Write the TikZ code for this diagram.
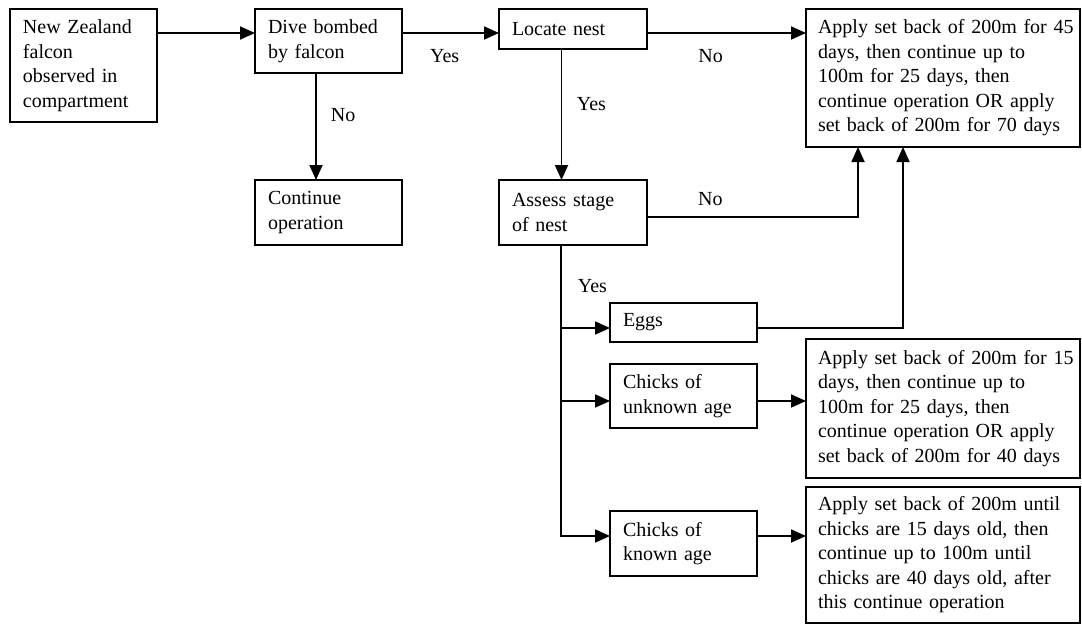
\documentclass[tikz,border=0pt]{standalone}
\usepackage{fontspec}
\setmainfont{Liberation Serif}
\usetikzlibrary{positioning,arrows.meta}

\begin{document}
\begin{tikzpicture}[>={Triangle[length=15pt,width=13pt]},line width=1.8pt,font=\fontsize{20}{24.5}\selectfont,
  box/.style={draw,align=left,anchor=north west,inner xsep=13pt,inner ysep=0pt,outer sep=0pt},
  wide box/.style={box,inner xsep=12pt,text width=250pt},
  link/.style={->},
  lbl/.style={inner sep=0pt}]
                \useasboundingbox (0,0) rectangle (1082pt,-624pt);

                \node[box,text width=121pt,minimum height=113pt] (falcon) at (10pt,-9pt) {New Zealand\\falcon\\observed in\\compartment};
                \node[box,text width=121pt,minimum height=64pt,right=98pt of falcon.north east,anchor=north west] (dive) {Dive bombed\\by falcon};
                \node[box,text width=121pt,minimum height=65pt,below=107pt of dive.south west,anchor=north west] (cont) {Continue\\operation};
                \node[box,text width=122pt,minimum height=40pt,right=97pt of dive.north east,anchor=north west] (locate) {Locate nest};
                \node[box,text width=122pt,minimum height=65pt,below=131pt of locate.south west,anchor=north west] (assess) {Assess stage\\of nest};
                \node[box,text width=121pt,minimum height=39pt,below right=58pt and 111pt of assess.south west,anchor=north west] (eggs) {Eggs};
                \node[box,text width=121pt,minimum height=64pt,below=22pt of eggs.south west,anchor=north west] (unknown) {Chicks of\\unknown age};
                \node[box,text width=121pt,minimum height=65pt,below=83pt of unknown.south west,anchor=north west] (known) {Chicks of\\known age};
                \node[wide box,minimum height=138pt,right=159pt of locate.north east,anchor=north west] (setback45) {\mbox{Apply set back of 200m for 45}\\days, then continue up to\\100m for 25 days, then\\continue operation OR apply\\set back of 200m for 70 days};
                \node[wide box,minimum height=139pt,below=192pt of setback45.south west,anchor=north west] (setback15) {\mbox{Apply set back of 200m for 15}\\days, then continue up to\\100m for 25 days, then\\continue operation OR apply\\set back of 200m for 40 days};
                \node[wide box,minimum height=136pt,below=9pt of setback15.south west,anchor=north west] (setbackage) {Apply set back of 200m until\\chicks are 15 days old, then\\continue up to 100m until\\chicks are 40 days old, after\\this continue operation};

                \coordinate (trunk) at ([xshift=-12pt]assess.south);

                \draw[link] ([yshift=-24pt]falcon.north east) -- ([yshift=-24pt]dive.north west);
                \draw[link] ([yshift=-24pt]dive.north east) -- node[lbl,pos=0.44,below=16pt]{Yes} ([yshift=-24pt]locate.north west);
                \draw[link] ([yshift=-24pt]locate.north east) -- node[lbl,pos=0.4,below=16pt]{No} ([yshift=-24pt]setback45.north west);
                \draw[link] ([xshift=-12.5pt]dive.south) -- node[lbl,pos=0.39,right=14pt]{No} ([xshift=-12.5pt]cont.north);
                \draw[link] ([xshift=-11.5pt]locate.south) -- node[lbl,pos=0.42,right=14.5pt]{Yes} ([xshift=-11.5pt]assess.north);
                \draw[link] ([yshift=-4.5pt]assess.east) -| node[lbl,pos=0.15,above=10pt]{No} ([xshift=52pt]setback45.south west);
                \draw[link] (trunk) |- node[lbl,pos=0.07,right=16pt]{Yes} ([yshift=7.5pt]known.west);
                \draw[link] ([yshift=-5.5pt]eggs.west -| trunk) -- ([yshift=-5.5pt]eggs.west);
                \draw[link] ([yshift=-5pt]unknown.west -| trunk) -- ([yshift=-5pt]unknown.west);
                \draw[link] ([yshift=-5.5pt]eggs.east) -| ([xshift=97pt]setback45.south west);
                \draw[link] ([yshift=-5pt]unknown.east) -- ([yshift=-5pt]unknown.east -| setback15.west);
                \draw[link] ([yshift=7.5pt]known.east) -- ([yshift=7.5pt]known.east -| setbackage.west);

            \end{tikzpicture}
\end{document}
